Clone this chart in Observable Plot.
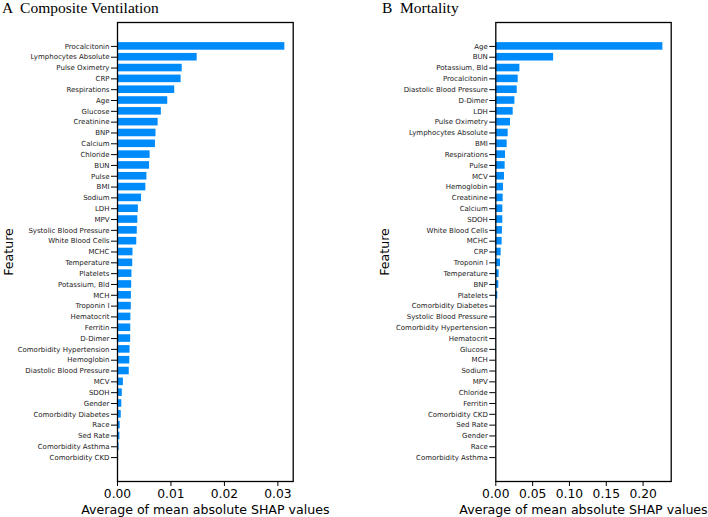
<!DOCTYPE html>
<html>
<head>
<meta charset="utf-8">
<script src="https://cdn.jsdelivr.net/npm/d3@7"></script>
<script src="https://cdn.jsdelivr.net/npm/@observablehq/plot@0.6"></script>
<style>
  body { margin: 0; background: white; }
  #wrap { position: relative; width: 708px; height: 517px; overflow: hidden; background: white; }
  .panel { position: absolute; top: 0; }
  .title { position: absolute; top: 0px; font-family: "Liberation Serif", "Times New Roman", serif; font-size: 15.5px; line-height: 16px; color: black; white-space: pre; }
</style>
</head>
<body>
<div id="wrap">
  <div class="panel" id="left" style="left:0px"></div>
  <div class="panel" id="right" style="left:354px"></div>
  <div class="title" style="left:2px">A  Composite Ventilation</div>
  <div class="title" style="left:382px">B  Mortality</div>
</div>
<script>
const leftFeatures = ["Procalcitonin","Lymphocytes Absolute","Pulse Oximetry","CRP","Respirations","Age","Glucose","Creatinine","BNP","Calcium","Chloride","BUN","Pulse","BMI","Sodium","LDH","MPV","Systolic Blood Pressure","White Blood Cells","MCHC","Temperature","Platelets","Potassium, Bld","MCH","Troponin I","Hematocrit","Ferritin","D-Dimer","Comorbidity Hypertension","Hemoglobin","Diastolic Blood Pressure","MCV","SDOH","Gender","Comorbidity Diabetes","Race","Sed Rate","Comorbidity Asthma","Comorbidity CKD"];
const leftValues = [0.0313,0.0149,0.0121,0.0119,0.0107,0.0094,0.0082,0.0076,0.0072,0.0071,0.0061,0.0060,0.0055,0.0053,0.0045,0.0039,0.0038,0.0037,0.0036,0.0029,0.00285,0.0027,0.00265,0.0026,0.00258,0.0025,0.00248,0.00246,0.00235,0.0023,0.0022,0.0011,0.0009,0.0008,0.0007,0.0005,0.00045,0.0003,0.0002];
const leftTicks = [0, 0.01, 0.02, 0.03];

const rightFeatures = ["Age","BUN","Potassium, Bld","Procalcitonin","Diastolic Blood Pressure","D-Dimer","LDH","Pulse Oximetry","Lymphocytes Absolute","BMI","Respirations","Pulse","MCV","Hemoglobin","Creatinine","Calcium","SDOH","White Blood Cells","MCHC","CRP","Troponin I","Temperature","BNP","Platelets","Comorbidity Diabetes","Systolic Blood Pressure","Comorbidity Hypertension","Hematocrit","Glucose","MCH","Sodium","MPV","Chloride","Ferritin","Comorbidity CKD","Sed Rate","Gender","Race","Comorbidity Asthma"];
const rightValues = [0.2268,0.0785,0.0327,0.0304,0.0291,0.0259,0.0236,0.0200,0.0168,0.0154,0.0132,0.0127,0.0118,0.0104,0.0100,0.0095,0.0095,0.0090,0.0086,0.0073,0.0064,0.0045,0.0041,0.0027,0.0009,0.0008,0.0007,0.0006,0.0006,0.0003,0.0003,0.0003,0.0002,0.0002,0.0001,0.0001,0.0001,0.0001,0.00005];
const rightTicks = [0, 0.05, 0.10, 0.15, 0.20];

const xTitle = "Average of mean absolute SHAP values";
const yTitle = "Feature";
const barColor = "#008bfb";

function panel(features, values, ticks, marginLeft, marginRight, featureDx) {
  const data = features.map((f, i) => ({f, v: values[i]}));
  const xmax = d3.max(values) * 1.05;
  return Plot.plot({
    width: 354,
    height: 517,
    marginTop: 22,
    marginBottom: 36,
    marginLeft,
    marginRight,
    style: {fontFamily: "DejaVu Sans", color: "black", background: "white", overflow: "visible"},
    x: {domain: [0, xmax], label: null},
    y: {type: "band", domain: features, paddingInner: 0.3, paddingOuter: 1.86, round: false, label: null},
    marks: [
      Plot.barX(data, {x: "v", y: "f", fill: barColor}),
      Plot.frame({stroke: "black", strokeWidth: 1.3}),
      Plot.axisY({tickSize: 6, tickPadding: 2, fontSize: 7, label: null, fill: "#222"}),
      Plot.axisX({ticks, tickFormat: d3.format(".2f"), tickSize: 5, tickPadding: 3, fontSize: 12.3, label: null}),
      Plot.text([xTitle], {frameAnchor: "bottom", dy: 28, fontSize: 12.6, lineAnchor: "middle", textAnchor: "middle"}),
      Plot.text([yTitle], {frameAnchor: "left", dx: featureDx, rotate: -90, fontSize: 12.6, lineAnchor: "middle", textAnchor: "middle"})
    ]
  });
}

document.getElementById("left").append(panel(leftFeatures, leftValues, leftTicks, 117, 61.3, -109));
document.getElementById("right").append(panel(rightFeatures, rightValues, rightTicks, 141.3, 37.3, -110.8));
</script>
</body>
</html>
